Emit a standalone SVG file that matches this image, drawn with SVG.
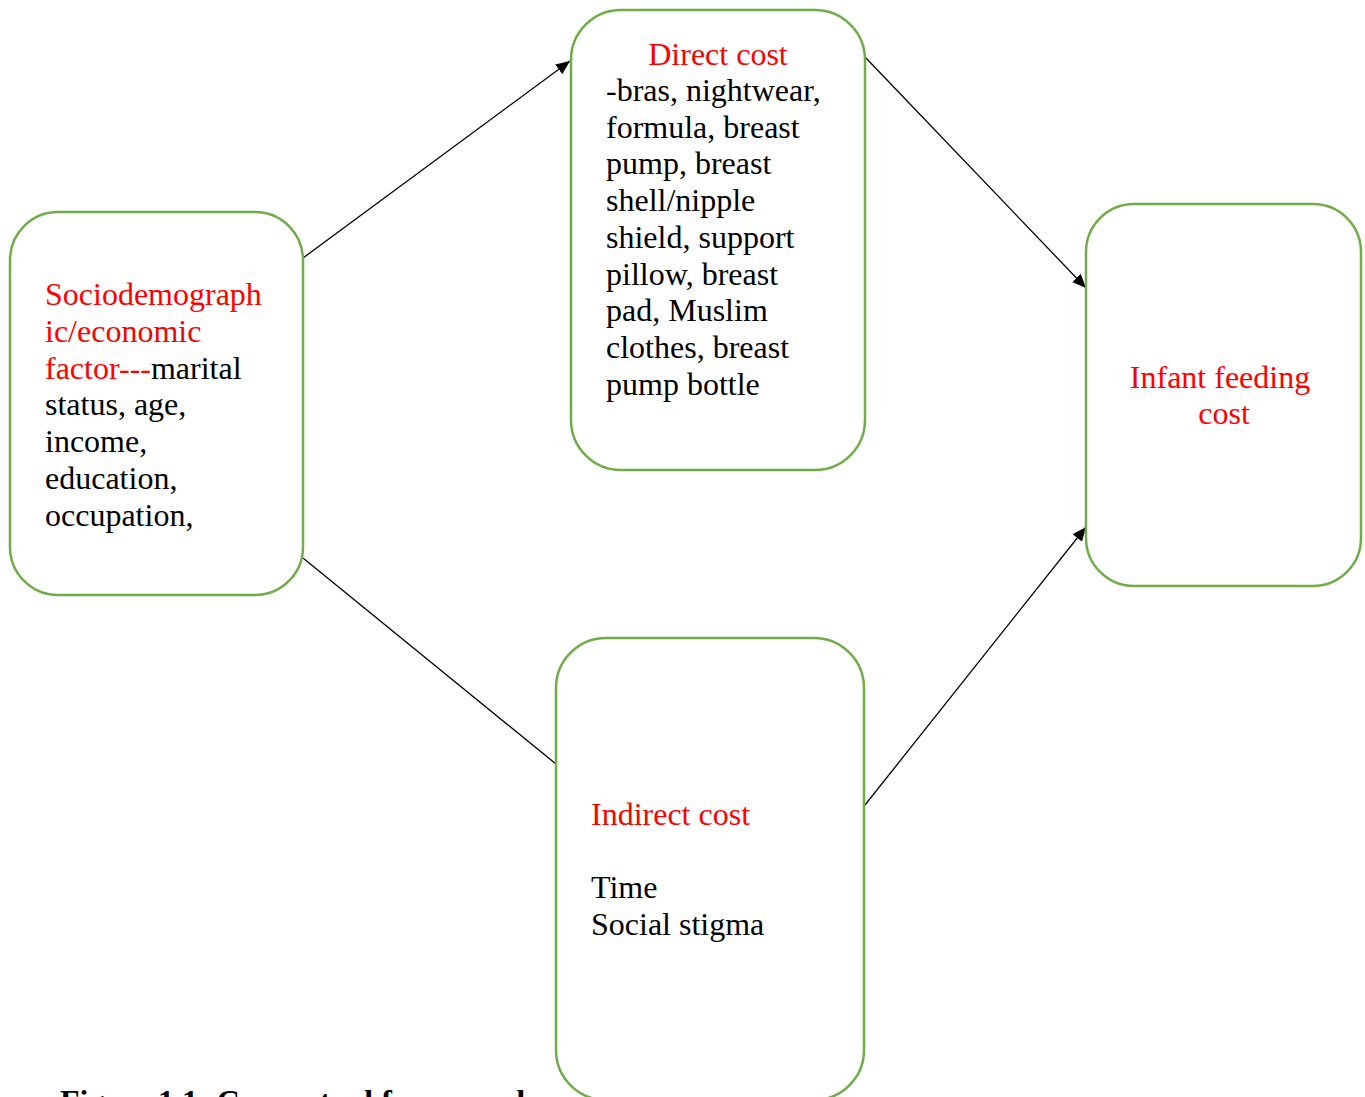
<svg xmlns="http://www.w3.org/2000/svg" width="1365" height="1097" viewBox="0 0 1365 1097">
<defs>
<style>
.box{fill:#fff;stroke:#70AD47;stroke-width:2.5}
.t{font-family:"Liberation Serif","Times New Roman",serif;font-size:32px;fill:#000}
.r{fill:#FF0000}
.edge{stroke:#000;stroke-width:1.3;fill:none}
.cap{font-family:"Liberation Serif","Times New Roman",serif;font-size:32px;font-weight:bold;fill:#000}
</style>
<marker id="ah" viewBox="0 0 10 10" refX="10" refY="5" markerWidth="14" markerHeight="12" markerUnits="userSpaceOnUse" orient="auto" preserveAspectRatio="none">
<path d="M0,0 L10,5 L0,10 z" fill="#000"/>
</marker>
</defs>
<rect width="1365" height="1097" fill="#fff"/>
<g id="connectors">
<line class="edge" x1="303" y1="258" x2="570" y2="61" marker-end="url(#ah)"/>
<line class="edge" x1="865" y1="57" x2="1086" y2="288" marker-end="url(#ah)"/>
<line class="edge" x1="865" y1="805" x2="1086" y2="527" marker-end="url(#ah)"/>
<line class="edge" x1="303" y1="558" x2="556" y2="764"/>
</g>
<g id="node-socio">
<rect class="box" x="10" y="212" width="293" height="383" rx="48" ry="48"/>
<text class="t" x="45">
<tspan x="45" y="305" class="r">Sociodemograph</tspan>
<tspan x="45" y="342" class="r">ic/economic</tspan>
<tspan x="45" y="379"><tspan class="r">factor---</tspan>marital</tspan>
<tspan x="45" y="415">status, age,</tspan>
<tspan x="45" y="452">income,</tspan>
<tspan x="45" y="489">education,</tspan>
<tspan x="45" y="526">occupation,</tspan>
</text>
</g>
<g id="node-direct">
<rect class="box" x="571" y="10" width="294" height="460" rx="50" ry="50"/>
<text class="t r" x="718" y="65" text-anchor="middle">Direct cost</text>
<text class="t">
<tspan x="606" y="101">-bras, nightwear,</tspan>
<tspan x="606" y="138">formula, breast</tspan>
<tspan x="606" y="174">pump, breast</tspan>
<tspan x="606" y="211">shell/nipple</tspan>
<tspan x="606" y="248">shield, support</tspan>
<tspan x="606" y="285">pillow, breast</tspan>
<tspan x="606" y="321">pad, Muslim</tspan>
<tspan x="606" y="358">clothes, breast</tspan>
<tspan x="606" y="395">pump bottle</tspan>
</text>
</g>
<g id="node-infant">
<rect class="box" x="1086" y="204" width="275" height="382" rx="48" ry="48"/>
<text class="t r" text-anchor="middle">
<tspan x="1224" y="388">Infant feeding</tspan>
<tspan x="1224" y="424">cost</tspan>
</text>
</g>
<g id="node-indirect">
<rect class="box" x="556" y="638" width="308" height="462" rx="50" ry="50"/>
<text class="t r" x="591" y="825">Indirect cost</text>
<text class="t">
<tspan x="591" y="898">Time</tspan>
<tspan x="591" y="935">Social stigma</tspan>
</text>
</g>
<g id="caption">
<text class="cap" x="60" y="1112">Figure 1.1: Conceptual framework</text>
</g>
</svg>
